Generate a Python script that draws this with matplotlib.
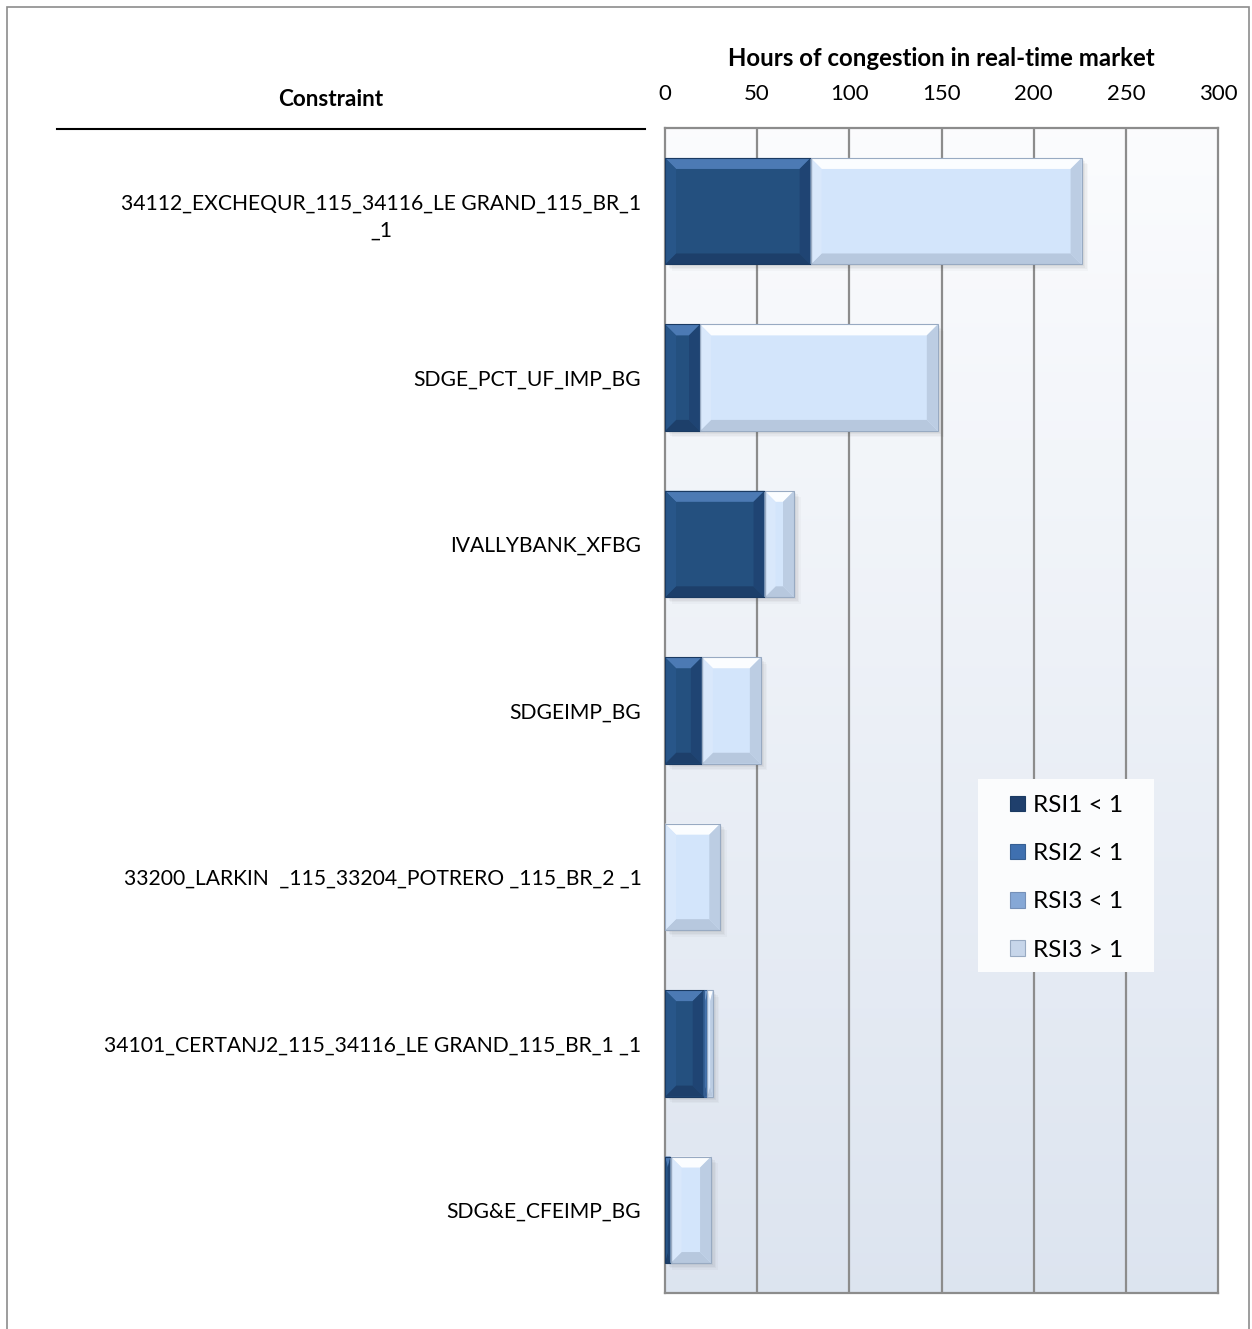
import numpy as np
import matplotlib
matplotlib.use("Agg")
import matplotlib.pyplot as plt
from matplotlib.patches import Polygon, Rectangle
from matplotlib.lines import Line2D

# ---- data -------------------------------------------------------------
constraints = [
    "34112_EXCHEQUR_115_34116_LE GRAND_115_BR_1\n_1",
    "SDGE_PCT_UF_IMP_BG",
    "IVALLYBANK_XFBG",
    "SDGEIMP_BG",
    "33200_LARKIN  _115_33204_POTRERO _115_BR_2 _1",
    "34101_CERTANJ2_115_34116_LE GRAND_115_BR_1 _1",
    "SDG&E_CFEIMP_BG",
]
rsi1_lt1 = [79, 19, 54, 20, 0, 21, 3]
rsi2_lt1 = [0, 0, 0, 0, 0, 2, 0]
rsi3_lt1 = [0, 0, 0, 0, 0, 0, 0]
rsi3_gt1 = [147, 129, 16, 32, 30, 3, 22]
series_names = ["RSI1 < 1", "RSI2 < 1", "RSI3 < 1", "RSI3 > 1"]
x_ticks = [0, 50, 100, 150, 200, 250, 300]

# ---- style --------------------------------------------------------------
FONT = ["Lato", "DejaVu Sans"]
plt.rcParams["font.family"] = FONT

face = ["#24507F", "#4A7EBB", "#8FB1DC", "#D3E5FB"]
bevel_top = ["#4C7AB4", "#7AA3D6", "#BCD2EE", "#FBFDFF"]
bevel_left = ["#285689", "#5589C6", "#A3C0E4", "#D9E8FB"]
bevel_right = ["#1F4473", "#3E6BA3", "#7D9BC4", "#BCCDE3"]
bevel_bot = ["#1D3F6A", "#365F93", "#7590B8", "#B7C8DE"]
edge_col = ["#1A3A62", "#365F93", "#7590B8", "#98AAC2"]
legend_face = ["#1F3F6C", "#3F70B0", "#86A8D6", "#C7D6EA"]

W, H = 1252, 1329
fig = plt.figure(figsize=(W / 100, H / 100), dpi=100)
fig.patch.set_facecolor("white")

ax_l, ax_r, ax_t, ax_b = 665, 1218, 128, 1293
ax = fig.add_axes([ax_l / W, 1 - ax_b / H, (ax_r - ax_l) / W, (ax_b - ax_t) / H])

n = len(constraints)
ax.set_xlim(0, 300)
ax.set_ylim(n - 0.5, -0.5)

# plot-area gradient background
grad = np.linspace(0, 1, 256).reshape(-1, 1)
top_c = np.array([0.985, 0.988, 0.995])
bot_c = np.array([0.865, 0.895, 0.940])
cols = top_c[None, :] + (bot_c - top_c)[None, :] * grad
ax.imshow(cols[:, None, :], extent=(0, 300, n - 0.5, -0.5), aspect="auto",
          zorder=0, interpolation="bilinear")

# grid
for xv in x_ticks[1:-1]:
    ax.axvline(xv, color="#8C8C8C", lw=1.6, zorder=1)
for s in ax.spines.values():
    s.set_color("#8C8C8C")
    s.set_linewidth(1.6)

ax.xaxis.tick_top()
ax.set_xticks(x_ticks)
ax.set_xticklabels([str(v) for v in x_ticks], fontsize=16)
ax.tick_params(axis="x", length=0, pad=17)
ax.set_yticks(range(n))
ax.set_yticklabels(constraints, fontsize=15.2)
ax.tick_params(axis="y", length=0, pad=17)
for lab in ax.get_yticklabels():
    lab.set_multialignment("center")
    lab.set_linespacing(1.45)

ax.set_xlabel("Hours of congestion in real-time market", fontsize=17.3,
              fontweight="bold", labelpad=13)
ax.xaxis.set_label_position("top")

# pixel -> data scale for bevel edges
px_x = (ax_r - ax_l) / 300.0
px_y = (ax_b - ax_t) / n
BEV = 11.0
bar_h = 0.64


def draw_segment(x0, x1, yc, k):
    if x1 - x0 <= 0:
        return
    yt, yb = yc - bar_h / 2, yc + bar_h / 2
    bx = min(BEV / px_x, (x1 - x0) / 2)
    by = min(BEV / px_y, bar_h / 2)
    # soft drop shadow
    for i, a in enumerate([0.05, 0.05, 0.04, 0.03]):
        off = (2 + i * 1.5)
        ax.add_patch(Rectangle((x0 + off / px_x, yt + off / px_y), x1 - x0, bar_h,
                               facecolor="#404040", alpha=a, lw=0, zorder=2))
    ax.barh(yc, x1 - x0, left=x0, height=bar_h, color=face[k], lw=0, zorder=3)
    polys = [
        ([(x0, yt), (x1, yt), (x1 - bx, yt + by), (x0 + bx, yt + by)], bevel_top[k]),
        ([(x0, yb), (x1, yb), (x1 - bx, yb - by), (x0 + bx, yb - by)], bevel_bot[k]),
        ([(x0, yt), (x0 + bx, yt + by), (x0 + bx, yb - by), (x0, yb)], bevel_left[k]),
        ([(x1, yt), (x1 - bx, yt + by), (x1 - bx, yb - by), (x1, yb)], bevel_right[k]),
    ]
    for pts, c in polys:
        ax.add_patch(Polygon(pts, closed=True, facecolor=c, lw=0, zorder=4))
    ax.add_patch(Rectangle((x0, yt), x1 - x0, bar_h, fill=False,
                           edgecolor=edge_col[k], lw=0.8, zorder=5))


series = [rsi1_lt1, rsi2_lt1, rsi3_lt1, rsi3_gt1]
for i in range(n):
    left = 0.0
    for k, vals in enumerate(series):
        v = vals[i]
        draw_segment(left, left + v, i, k)
        left += v

# legend panel
def fx(px):
    return (px - ax_l) / (ax_r - ax_l)


def fy(py):
    return 1 - (py - ax_t) / (ax_b - ax_t)


ax.add_patch(Rectangle((fx(978), fy(972)), fx(1154) - fx(978), fy(779) - fy(972),
                       transform=ax.transAxes, facecolor="#FBFCFD", edgecolor="none",
                       zorder=9))
handles = [Rectangle((0, 0), 1, 1, facecolor=legend_face[k], edgecolor=edge_col[k], lw=0.8)
           for k in range(4)]
leg = ax.legend(handles, series_names, loc="upper left",
                bbox_to_anchor=(fx(1010), fy(795)),
                fontsize=17.5, frameon=False, handlelength=0.6, handleheight=0.6,
                handletextpad=0.35, labelspacing=1.12, borderpad=0,
                borderaxespad=0)
leg.set_zorder(10)

# header for the constraint column and rule beneath it
fig.text(331 / W, 1 - 99 / H, "Constraint", fontsize=16.2, fontweight="bold",
         ha="center", va="center")
fig.add_artist(Line2D([57 / W, 645 / W], [1 - 129 / H, 1 - 129 / H],
                      color="black", lw=1.5))

# outer frame
fig.add_artist(Rectangle((7 / W, -0.01), (1249 - 7) / W, 1 - 7 / H + 0.01,
                         fill=False, edgecolor="#8C8C8C", lw=1.2,
                         transform=fig.transFigure))

fig.savefig("out.png", dpi=100, facecolor="white")
